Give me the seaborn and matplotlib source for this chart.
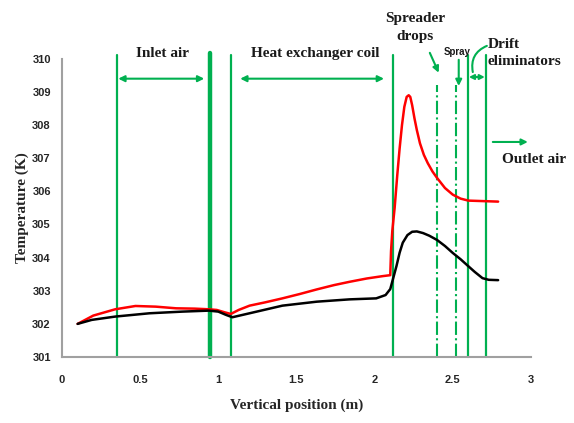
import numpy as np
import pandas as pd
import matplotlib
matplotlib.use('Agg')
import matplotlib.pyplot as plt
import seaborn as sns

# curve readings (vertical position in m, temperature in K)
red_x = [0.10, 0.20, 0.34, 0.47, 0.60, 0.73, 0.85, 0.94, 0.99, 1.04, 1.08, 1.13, 1.20, 1.30,
         1.41, 1.52, 1.63, 1.74, 1.84, 1.95, 2.05, 2.10, 2.105, 2.113, 2.128, 2.145, 2.16,
         2.175, 2.19, 2.205, 2.218, 2.228, 2.24, 2.255, 2.27, 2.29, 2.315, 2.34, 2.37, 2.40,
         2.45, 2.50, 2.55, 2.60, 2.79]
red_y = [302.0, 302.25, 302.44, 302.54, 302.52, 302.47, 302.46, 302.44, 302.42, 302.35, 302.3,
         302.42, 302.55, 302.65, 302.77, 302.9, 303.04, 303.17, 303.27, 303.37, 303.44, 303.47,
         304.2, 304.8, 305.5, 306.5, 307.3, 308.0, 308.55, 308.85, 308.9, 308.85, 308.6,
         308.2, 307.85, 307.45, 307.1, 306.85, 306.6, 306.4, 306.1, 305.9, 305.78, 305.72,
         305.69]

black_x = [0.10, 0.19, 0.34, 0.56, 0.77, 0.94, 1.00, 1.05, 1.09, 1.20, 1.41, 1.63, 1.84, 2.01,
           2.07, 2.10, 2.12, 2.14, 2.16, 2.18, 2.21, 2.24, 2.27, 2.31, 2.35, 2.40, 2.45, 2.50,
           2.55, 2.59, 2.64, 2.69, 2.73, 2.79]
black_y = [302.0, 302.12, 302.22, 302.32, 302.37, 302.4, 302.37, 302.27, 302.2, 302.32, 302.55,
           302.67, 302.74, 302.77, 302.87, 303.05, 303.4, 303.75, 304.15, 304.45, 304.68,
           304.78, 304.79, 304.74, 304.66, 304.53, 304.35, 304.14, 303.95, 303.78, 303.57,
           303.38, 303.33, 303.32]

# zone boundaries
solid_x = [0.35, 1.08, 2.115, 2.596, 2.712]
thick_x = [0.95]
dashdot_x = [2.40, 2.52]

green = '#00b050'

sns.set_style('white')
plt.rcParams['font.family'] = ['Liberation Serif', 'DejaVu Serif']

fig = plt.figure(figsize=(5.74, 4.23), dpi=100)
ax = fig.add_axes([0.108, 0.156, 0.817, 0.705])

df_red = pd.DataFrame({'x': red_x, 'y': red_y})
df_black = pd.DataFrame({'x': black_x, 'y': black_y})
sns.lineplot(data=df_red, x='x', y='y', color='red', lw=1.8, estimator=None, sort=False, ax=ax, zorder=3)
sns.lineplot(data=df_black, x='x', y='y', color='black', lw=1.8, estimator=None, sort=False, ax=ax, zorder=3)

ax.set_xlim(0, 3)
ax.set_ylim(301, 310)
ax.set_xticks([0, 0.5, 1, 1.5, 2, 2.5, 3])
ax.set_xticklabels(['0', '0.5', '1', '1.5', '2', '2.5', '3'])
ax.set_yticks(range(301, 311))
for lab in ax.get_xticklabels() + ax.get_yticklabels():
    lab.set_family(['Liberation Sans Narrow', 'Liberation Sans'])
    lab.set_fontweight('bold')
    lab.set_fontsize(8)
ax.tick_params(axis='x', length=0, pad=13)
ax.tick_params(axis='y', length=0, pad=8)

for s in ['top', 'right']:
    ax.spines[s].set_visible(False)
for s in ['left', 'bottom']:
    ax.spines[s].set_color('#a0a0a0')
    ax.spines[s].set_linewidth(1.5)

ax.set_xlabel('Vertical position (m)', fontsize=11, fontweight='bold', labelpad=10)
ax.set_ylabel('Temperature (K)', fontsize=11, fontweight='bold', labelpad=2)

# boundaries
for xv in solid_x:
    ax.plot([xv, xv], [301, 310.12], color=green, lw=1.6, clip_on=False, zorder=2)
for xv in thick_x:
    ax.plot([xv, xv], [301, 310.18], color=green, lw=3.2, clip_on=False, zorder=2)
for xv in dashdot_x:
    ax.plot([xv, xv], [301, 309.2], color=green, lw=1.5, ls='-.', zorder=2)

arrow2 = dict(arrowstyle='<|-|>', color=green, lw=1.5, mutation_scale=9, shrinkA=0, shrinkB=0)
arrow1 = dict(arrowstyle='-|>', color=green, lw=1.5, mutation_scale=9, shrinkA=0, shrinkB=0)
ax.annotate('', xy=(0.91, 309.4), xytext=(0.36, 309.4), arrowprops=arrow2, annotation_clip=False)
ax.annotate('', xy=(2.06, 309.4), xytext=(1.14, 309.4), arrowprops=arrow2, annotation_clip=False)
ax.annotate('', xy=(2.705, 309.45), xytext=(2.603, 309.45), arrowprops=dict(arrow2, mutation_scale=7), annotation_clip=False)
ax.annotate('', xy=(2.41, 309.58), xytext=(2.353, 310.18), arrowprops=arrow1, annotation_clip=False)
ax.annotate('', xy=(2.538, 309.18), xytext=(2.538, 309.97), arrowprops=arrow1, annotation_clip=False)
ax.annotate('', xy=(2.98, 307.49), xytext=(2.756, 307.49), arrowprops=arrow1, annotation_clip=False)
ax.annotate('', xy=(2.628, 309.6), xytext=(2.718, 310.39),
            arrowprops=dict(arrowstyle='-', color=green, lw=1.5, shrinkA=0, shrinkB=0,
                            connectionstyle='arc3,rad=0.4'), annotation_clip=False)

tkw = dict(fontsize=11, fontweight='bold', color='#1a1a1a')
ax.text(0.64, 310.15, 'Inlet air', ha='center', va='center', **tkw)
ax.text(1.62, 310.15, 'Heat exchanger coil', ha='center', va='center', **tkw)
ax.text(2.26, 310.95, 'Spreader\ndrops', ha='center', va='center', linespacing=1.45, **tkw)
ax.text(2.725, 310.18, 'Drift\neliminators', ha='left', va='center', linespacing=1.4, **tkw)
ax.text(3.02, 306.95, 'Outlet air', ha='center', va='center', **tkw)
ax.text(2.53, 310.2, 'Spray', ha='center', va='center', fontsize=7, fontweight='bold',
        family=['Liberation Sans Narrow', 'Liberation Sans'], color='#1a1a1a')

fig.savefig('out.png', dpi=100)
